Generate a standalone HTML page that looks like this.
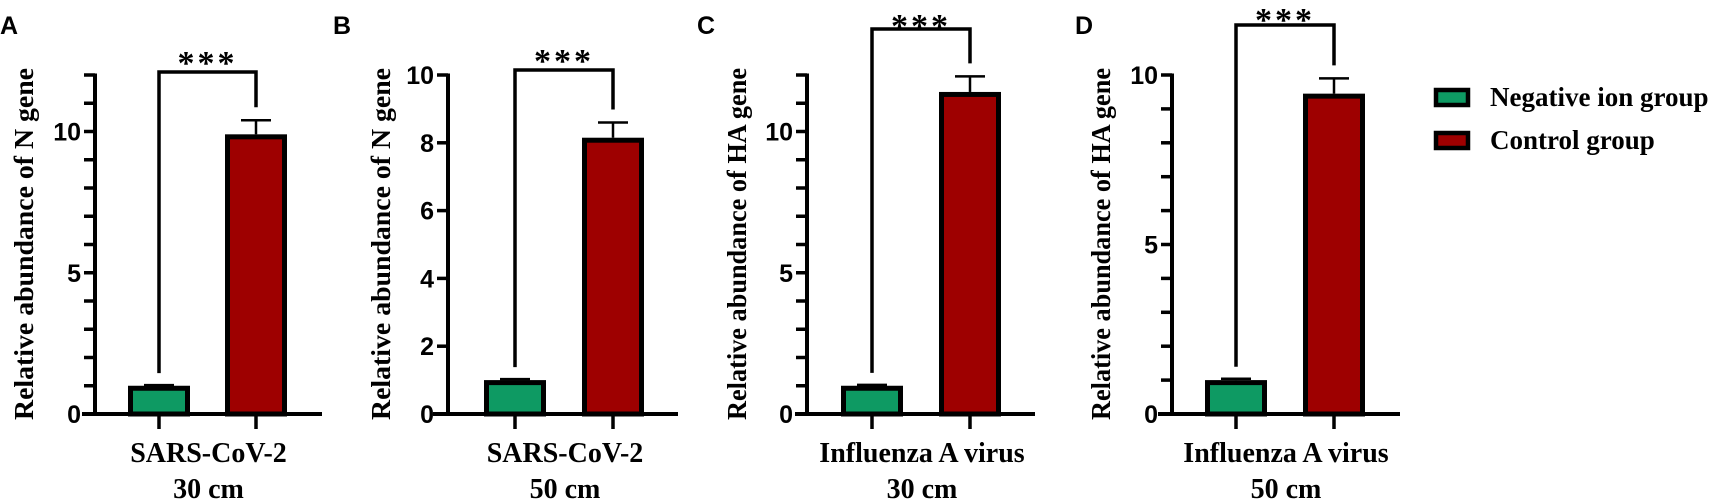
<!DOCTYPE html>
<html><head><meta charset="utf-8">
<style>
html,body{margin:0;padding:0;background:#fff;}
svg{display:block;}
.tick{font-family:"Liberation Sans",Arial,sans-serif;font-weight:bold;font-size:25px;}
.ser{font-family:"Liberation Serif","Times New Roman",serif;font-weight:bold;}
</style></head>
<body>
<svg id="chart" width="1713" height="499" viewBox="0 0 1713 499" xmlns="http://www.w3.org/2000/svg"></svg>
<script>
const panelLetters = ["A","B","C","D"];
const yTitles = ["Relative abundance of N gene","Relative abundance of N gene","Relative abundance of HA gene","Relative abundance of HA gene"];
const xLine1 = ["SARS-CoV-2","SARS-CoV-2","Influenza A virus","Influenza A virus"];
const xLine2 = ["30 cm","50 cm","30 cm","50 cm"];
const negValues = [1.0, 1.0, 1.0, 1.0];
const negErrors = [1.02, 1.03, 1.03, 1.04];
const ctrlValues = [9.9, 8.15, 11.4, 9.45];
const ctrlErrors = [10.4, 8.6, 11.95, 9.9];
const yMax = [12, 10, 12, 10];
const majorTicks = [[0,5,10],[0,2,4,6,8,10],[0,5,10],[0,5,10]];
const minorStep = [1, 2, 1, 1];
const sigLabels = ["***","***","***","***"];
const legendLabels = ["Negative ion group","Control group"];

// layout (pixels) — not data
const layout = [
  {ax:95, x0:82, x1:322, c1:159, c2:256, letterX:0, titleX:23, bTop:72, starY:62},
  {ax:448, x0:433, x1:678, c1:515, c2:613, letterX:333, titleX:380, bTop:70, starY:60},
  {ax:807, x0:795, x1:1035, c1:872, c2:970, letterX:697, titleX:736, bTop:29, starY:25},
  {ax:1172, x0:1158, x1:1400, c1:1236, c2:1334, letterX:1075, titleX:1100, bTop:25, starY:19}
];
const Y0 = 414, YT = 75, BW = 62;
const GREEN = "#0e9a63", RED = "#9e0000";
const NS = "http://www.w3.org/2000/svg";
const svg = document.getElementById('chart');
function mk(tag, attrs, parent){
  const e = document.createElementNS(NS, tag);
  for (const k in attrs) e.setAttribute(k, attrs[k]);
  (parent||svg).appendChild(e);
  return e;
}
for (let i = 0; i < 4; i++) {
  const L = layout[i];
  const g = mk('g', {});
  
  
  const y = v => Y0 - (v / yMax[i]) * (Y0 - YT);
  const lt = mk('text', {x:L.letterX, y:34, class:'tick', 'font-size':'25'}, g);
  
  
  lt.textContent = panelLetters[i];
  const ya = mk('line', {x1:L.ax, y1:YT-1.5, x2:L.ax, y2:Y0, stroke:'#000', 'stroke-width':4}, g);
  
  
  for (let v = 0; v <= yMax[i] + 1e-9; v += minorStep[i]) {
    const t = mk('line', {x1:L.ax-11, y1:y(v), x2:L.ax, y2:y(v), stroke:'#000', 'stroke-width':3.5}, g);
    
    
  }
  majorTicks[i].forEach(v => {
    const t = mk('text', {x:L.ax-14, y:y(v)+9, 'text-anchor':'end', class:'tick'}, g);
    
    
    t.textContent = v;
  });
  const yt = mk('text', {x:0, y:0, class:'ser', 'font-size':'27', 'text-anchor':'middle',
    transform:'translate(' + (L.titleX+10) + ',244) rotate(-90)', textLength:352, lengthAdjust:'spacingAndGlyphs'}, g);
  
  
  yt.textContent = yTitles[i];
  const bars = [[L.c1, negValues[i], negErrors[i], GREEN, 'bar-negative-ion'], [L.c2, ctrlValues[i], ctrlErrors[i], RED, 'bar-control']];
  bars.forEach(b => {
    const [cx, v, e, col, nm] = b;
    const el = mk('line', {x1:cx, y1:y(v), x2:cx, y2:y(e), stroke:'#000', 'stroke-width':2.5}, g);
    
    
    const cap = mk('line', {x1:cx-15, y1:y(e), x2:cx+15, y2:y(e), stroke:'#000', 'stroke-width':2.5}, g);
    
    
    const r = mk('rect', {x:cx-BW/2+2.5, y:y(v)+2.5, width:BW-5, height:Y0-y(v)-2.5, fill:col, stroke:'#000', 'stroke-width':5}, g);
    
    
  });
  const xa = mk('line', {x1:L.x0, y1:Y0, x2:L.x1, y2:Y0, stroke:'#000', 'stroke-width':4}, g);
  
  
  [L.c1, L.c2].forEach(cx => {
    const t = mk('line', {x1:cx, y1:Y0, x2:cx, y2:Y0+15, stroke:'#000', 'stroke-width':3.5}, g);
    
    
  });
  const mid = (L.c1 + L.c2) / 2;
  const x1t = mk('text', {x:mid+1, y:462, class:'ser', 'font-size':'28', 'text-anchor':'middle'}, g);
  
  
  x1t.textContent = xLine1[i];
  const x2t = mk('text', {x:mid+1, y:498, class:'ser', 'font-size':'28', 'text-anchor':'middle'}, g);
  
  
  x2t.textContent = xLine2[i];
  const br = mk('polyline', {points: L.c1 + ',' + (y(negErrors[i]) - 12) + ' ' + L.c1 + ',' + L.bTop + ' ' + L.c2 + ',' + L.bTop + ' ' + L.c2 + ',' + (y(ctrlErrors[i]) - 13),
    fill:'none', stroke:'#000', 'stroke-width':3.5}, g);
  
  
  const st = mk('text', {x:mid, y:L.starY + 12, class:'ser', 'font-size':'34', 'text-anchor':'middle', 'letter-spacing':'3'}, g);
  
  
  st.textContent = sigLabels[i];
}
const lg = mk('g', {});


[[GREEN, 97], [RED, 140]].forEach((d, k) => {
  const r = mk('rect', {x:1436, y:d[1]-7, width:32, height:15, fill:d[0], stroke:'#000', 'stroke-width':4.5}, lg);
  
  
  const t = mk('text', {x:1490, y:d[1]+9, class:'ser', 'font-size':'27'}, lg);
  
  
  t.textContent = legendLabels[k];
});
</script>
</body></html>
